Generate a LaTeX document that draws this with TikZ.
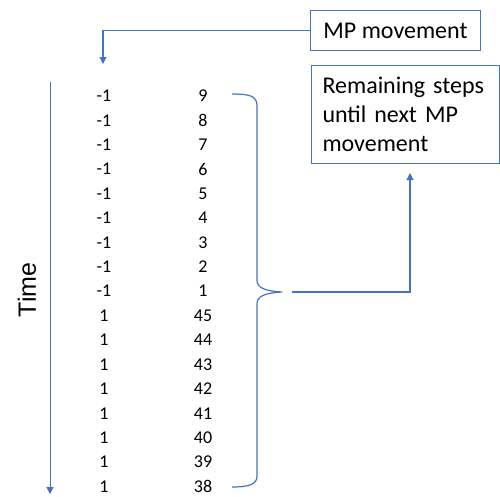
\documentclass[tikz,border=0pt]{standalone}
\usepackage{fontspec}
\setmainfont{Carlito}
\newfontfamily\axisfont{Liberation Sans}
\usetikzlibrary{arrows.meta}
\definecolor{lineblue}{HTML}{4472C4}
\begin{document}
\begin{tikzpicture}[x=1pt,y=-1pt,
  conn/.style={draw=lineblue, line width=1.2pt},
  arr/.style={conn, -{Triangle[length=7pt,width=7pt]}},
  labelbox/.style={draw=lineblue, line width=1pt, inner sep=0pt,
    font=\fontsize{24}{29}\selectfont},
  num/.style={font=\fontsize{18}{20}\selectfont, inner sep=0pt}]
\useasboundingbox (0,0) rectangle (500,496);

% text boxes
\node[labelbox, anchor=north west, minimum width=170pt, minimum height=40pt]
  (mp) at (310,10) {MP movement};
\node[labelbox, anchor=north west, minimum width=188pt, minimum height=98pt,
  text width=166pt, align=left] (rem) at (311,65)
  {Remaining steps\\until next MP\\movement};

% time axis
\coordinate (ttop) at (50,82);
\coordinate (tbot) at (50,494);
\draw[arr, line width=1pt] (ttop) -- (tbot);
\node[rotate=90, font=\axisfont\fontsize{25}{28}\selectfont] (time) at (27,290) {Time};

% two columns of values
\foreach \a/\b [count=\i from 0] in
  {-1/9,-1/8,-1/7,-1/6,-1/5,-1/4,-1/3,-1/2,-1/1,
   1/45,1/44,1/43,1/42,1/41,1/40,1/39,1/38} {
  \node[num] (a\i) at (104,96+24.4*\i) {\a};
  \node[num] (b\i) at (203,96+24.4*\i) {\b};
}

% brace around the right column
\coordinate (btop) at (232,94);
\coordinate (tip) at (282,292);
\coordinate (bbot) at (232,487);
\draw[conn] (btop) .. controls (250,94) and (257,96) .. (257,106)
  -- (257,280) .. controls (257,288) and (265,291) .. (tip)
  .. controls (265,293) and (257,296) .. (257,304)
  -- (257,476) .. controls (257,484) and (250,487) .. (bbot);

% connectors to the values
\coordinate (mpfoot) at (103,64);
\draw[arr] (mp.west) -| (mpfoot);
\coordinate (remfoot) at (410,173);
\coordinate (linestart) at (292,292);
\draw[arr] (linestart) -| (remfoot);
\end{tikzpicture}
\end{document}
